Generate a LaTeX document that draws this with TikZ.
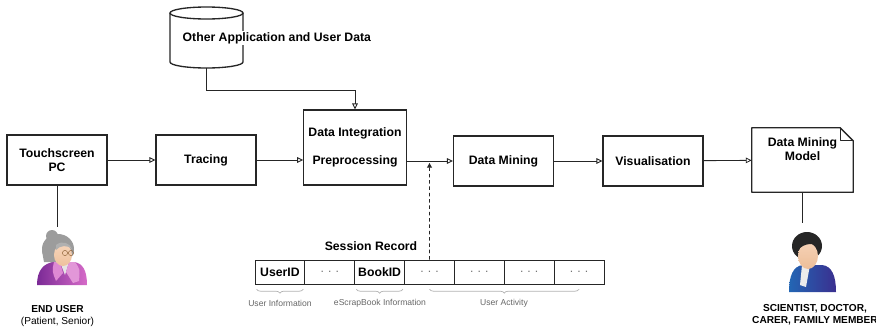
\documentclass[tikz,border=0pt]{standalone}
\usepackage{fontspec}
\setmainfont{Liberation Sans}
\usepackage{xcolor}
\usetikzlibrary{arrows.meta, decorations.pathreplacing}

\definecolor{edge}{HTML}{262626}
\definecolor{hairgray}{HTML}{9C9C9C}
\definecolor{skin}{HTML}{F4C9A8}
\definecolor{elderdark}{HTML}{7B2A96}
\definecolor{elderlight}{HTML}{D66BC8}
\definecolor{coatdark}{HTML}{2366B4}
\definecolor{coatlight}{HTML}{3A2F8F}

\begin{document}
\begin{tikzpicture}[x=0.025cm, y=0.025cm, >={Triangle[open, length=4.2pt, width=4pt]},
    box/.style={draw=edge, line width=0.95pt, fill=white, minimum width=2.5cm, minimum height=1.25cm, align=center,
                font=\fontsize{8.7}{10}\selectfont\bfseries},
    lbl/.style={font=\fontsize{8.7}{10}\selectfont\bfseries, align=center},
    flow/.style={->, draw=edge, line width=0.6pt},
    link/.style={draw=edge, line width=0.6pt},
    cell/.style={draw=edge, line width=0.6pt, minimum width=1.246cm, minimum height=0.6cm, inner sep=0pt,
                 font=\fontsize{8.7}{10}\selectfont},
    note/.style={font=\fontsize{6.1}{7}\selectfont, text=black!60},
    brc/.style={decorate, decoration={brace, amplitude=2.8pt}, draw=black!30, line width=0.5pt},
    who/.style={font=\fontsize{7.2}{8.6}\selectfont, align=center}]
    \useasboundingbox (0,0) rectangle (876,331);

    % main pipeline
    \node[box] (touch) at (57,171) {Touchscreen\\PC};
    \node[box] (trace) at (206,171) {Tracing};
    \node[box, minimum height=1.875cm] (integ) at (355,183.5) {Data Integration\\[10pt]Preprocessing};
    \node[box] (mine) at (503.5,170) {Data Mining};
    \node[box] (vis) at (653,170) {Visualisation};
    \node[minimum width=2.525cm, minimum height=1.6cm, inner sep=0pt] (model) at (802.5,171) {};
    \fill[white, draw=edge, line width=0.95pt, line join=round]
        (model.south west) -- (model.north west) -- ([xshift=-0.33cm]model.north east)
        -- ([yshift=-0.33cm]model.north east) -- (model.south east) -- cycle;
    \draw[link, line join=round] ([xshift=-0.33cm]model.north east) |- ([yshift=-0.33cm]model.north east);
    \node[lbl] (modeltxt) at (802.5,182) {Data Mining\\Model};

    \draw[flow] (touch) -- (trace);
    \draw[flow] (trace) -- (trace -| integ.west);
    \draw[flow] (integ.east |- mine) -- (mine);
    \draw[flow] (mine) -- (vis);
    \draw[flow] (vis) -- (model);

    % data store
    \draw[fill=white, draw=edge, line width=0.95pt] (170,318) -- (170,269)
        arc[start angle=180, end angle=360, x radius=36.5, y radius=6] -- (243,318);
    \draw[fill=white, draw=edge, line width=0.95pt] (206.5,318) ellipse [x radius=36.5, y radius=6];
    \coordinate (store) at (206.5,263);
    \node[lbl, anchor=west, fill=white, inner sep=1pt] (storetxt) at (181,293) {Other Application and User Data};
    \draw[flow] (store) -- (store |- 0,241) -| (integ.north);

    % session record
    \node[lbl] (srec) at (371,85) {Session Record};
    \foreach \t [count=\i] in {\textbf{UserID}, {\color{black!55}.\,\,.\,\,.}, \textbf{BookID},
            {\color{black!55}.\,\,.\,\,.}, {\color{black!55}.\,\,.\,\,.}, {\color{black!55}.\,\,.\,\,.}, {\color{black!55}.\,\,.\,\,.}}
        \node[cell] (c\i) at ({255+49.85*(\i-0.5)},59) {\t};

    \coordinate (tap) at (429.5,168);
    \draw[draw=edge, line width=0.6pt, -{Triangle[length=3.2pt, width=3.4pt]}, dash pattern=on 2.5pt off 2pt]
        (c4.north) -- (tap);

    \draw[brc] ([xshift=-0.05cm, yshift=-0.12cm]c1.south east) -- ([xshift=0.05cm, yshift=-0.12cm]c1.south west);
    \draw[brc] ([xshift=-0.05cm, yshift=-0.12cm]c3.south east) -- ([xshift=0.05cm, yshift=-0.12cm]c3.south west);
    \draw[brc] ([yshift=-0.12cm]c7.south) -- ([yshift=-0.12cm]c4.south);
    \node[note] (uinfo) at (280,28) {User Information};
    \node[note] (binfo) at (380,28) {eScrapBook Information};
    \node[note] (uact) at (504,28) {User Activity};

    % end user
    \coordinate (elder) at (57,104);
    \draw[link] (touch.south) -- (elder);
    \begin{scope}[shift={(60,78)}]
        \fill[hairgray] (-2,4) ellipse [x radius=16, y radius=15];
        \fill[hairgray] (-8,17) circle (6);
        \fill[hairgray] (-18,2) -- (-16,-9) -- (-6,-9) -- (-6,4) -- cycle;
        \shade[left color=elderdark, right color=elderlight]
            (-23,-32) .. controls (-23,-17) and (-16,-10) .. (-6,-9) -- (14,-9)
            .. controls (23,-10) and (27,-18) .. (27,-32) -- cycle;
        \fill[black!10] (0,-9) -- (9,-9) -- (5,-22) -- cycle;
        \fill[elderlight!70!white] (9,-9) -- (15,-9) .. controls (20,-16) .. (19,-28) -- (13,-30) -- (6,-19) -- cycle;
        \fill[elderlight!80!white] (-6,-9) -- (0,-9) -- (3,-20) -- (-4,-28) .. controls (-8,-18) .. (-6,-9);
        \shade[top color=skin!80!white, bottom color=skin!90!brown] (3,-2) ellipse [x radius=9, y radius=11];
        \fill[hairgray!80!white] (-4,8) .. controls (2,13) and (10,10) .. (12,4) .. controls (8,8) and (0,8) .. (-4,3) -- cycle;
        \draw[brown!70!black, line width=0.3pt] (5,0) circle (2.6) (11,0) circle (2.6);
    \end{scope}
    \node[who] (enduser) at (57.5,15) {{\bfseries END USER}\\(Patient, Senior)};

    % analyst
    \coordinate (sci) at (802.5,108);
    \draw[link] (model.south) -- (sci);
    \begin{scope}[shift={(808,79)}]
        \shade[left color=coatdark, right color=coatlight]
            (-19,-40) .. controls (-19,-24) and (-15,-14) .. (-5,-13) -- (14,-13)
            .. controls (24,-14) and (28,-24) .. (28,-40) -- cycle;
        \fill[white!92!black] (-6,-13) -- (2,-13) -- (-2,-35) -- (-8,-33) -- cycle;
        \fill[black!85] (-1,6) ellipse [x radius=15, y radius=14];
        \shade[top color=skin!85!white, bottom color=skin!85!brown] (0,-4) ellipse [x radius=10, y radius=13];
        \fill[black!85] (-11,8) .. controls (-4,16) and (8,14) .. (12,4) .. controls (6,10) and (-4,9) .. (-10,2) -- cycle;
    \end{scope}
    \node[who, font=\fontsize{7.2}{8.6}\selectfont\bfseries] (scitxt) at (815,16.5) {SCIENTIST, DOCTOR,\\CARER, FAMILY MEMBER};
\end{tikzpicture}
\end{document}
